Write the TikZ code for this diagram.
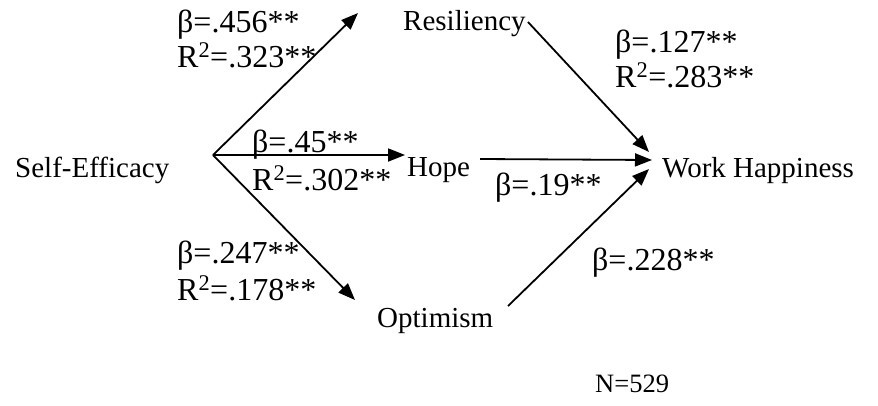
\documentclass[tikz,border=0pt]{standalone}
\usepackage{fontspec}
\setmainfont{Liberation Serif}
\usepackage{tikz}
\usetikzlibrary{arrows.meta}
\tikzset{
  arr/.style={-{Triangle[length=17pt,width=13pt]},line width=1.8pt},
  var/.style={anchor=base west,inner sep=0pt},
  coef/.style={anchor=base west,inner sep=0pt,font=\fontsize{32}{36}\selectfont},
  nlab/.style={anchor=base west,inner sep=0pt,font=\fontsize{26.5}{30}\selectfont},
}

\begin{document}
\begin{tikzpicture}[x=1pt,y=-1pt,font=\fontsize{29}{34}\selectfont]
        \useasboundingbox (0,0) rectangle (878,405);
        % o'zgaruvchilar
        \node[var] (se) at (15,177) {Self-Efficacy};
        \node[var] (res) at (403,30) {Resiliency};
        \node[var] (hope) at (407,176) {Hope};
        \node[var] (opt) at (377,327) {Optimism};
        \node[var] (wh) at (662,177) {Work Happiness};
        % strelka uchlari
        \coordinate (split) at (213,155);
        \coordinate (resIn) at (358,13);
        \coordinate (hopeIn) at (405,155);
        \coordinate (optIn) at (355,300);
        \coordinate (resOut) at (528,22);
        \coordinate (hopeOut) at (480,159);
        \coordinate (optOut) at (508,306);
        \coordinate (whA) at (649,152);
        \coordinate (whB) at (652,160);
        \coordinate (whC) at (649,169);
        \draw[arr] (split) -- (resIn);
        \draw[arr] (split) -- (hopeIn);
        \draw[arr] (split) -- (optIn);
        \draw[arr] (resOut) -- (whA);
        \draw[arr] (hopeOut) -- (whB);
        \draw[arr] (optOut) -- (whC);
        % koeffitsientlar
        \node[coef] (b1) at (177,32) {β=.456**};
        \node[coef] (r1) at (177,67) {R\textsuperscript{2}=.323**};
        \node[coef] (b2) at (252,152) {β=.45**};
        \node[coef] (r2) at (252,190) {R\textsuperscript{2}=.302**};
        \node[coef] (b3) at (177,263) {β=.247**};
        \node[coef] (r3) at (177,300) {R\textsuperscript{2}=.178**};
        \node[coef] (b4) at (615,52) {β=.127**};
        \node[coef] (r4) at (615,87) {R\textsuperscript{2}=.283**};
        \node[coef] (b5) at (495,195) {β=.19**};
        \node[coef] (b6) at (592,270) {β=.228**};
        \node[nlab] (n) at (595,392) {N=529};
      \end{tikzpicture}
\end{document}
